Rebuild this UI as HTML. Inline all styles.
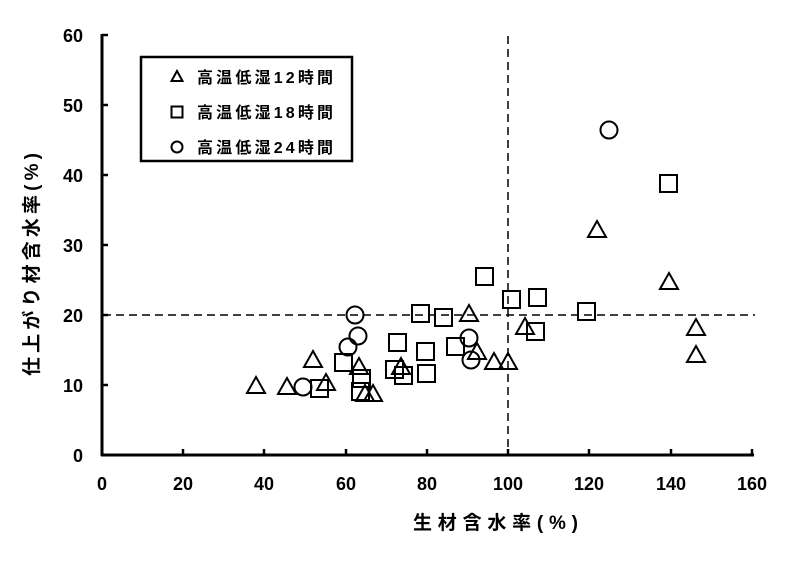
<!DOCTYPE html>
<html><head><meta charset="utf-8"><style>body{margin:0;background:#fff}</style></head><body>
<svg width="800" height="558" xmlns="http://www.w3.org/2000/svg" font-family="'Liberation Sans','Noto Sans CJK JP',sans-serif" font-weight="bold">
<rect width="800" height="558" fill="#fff"/>
<g stroke="#000" stroke-width="1.5" stroke-dasharray="8,5" fill="none">
<line x1="103" y1="315" x2="755" y2="315"/>
<line x1="508" y1="36" x2="508" y2="455"/>
</g>
<g stroke="#000" stroke-width="3" fill="none">
<line x1="102" y1="34" x2="102" y2="456"/>
<line x1="101" y1="455" x2="754" y2="455"/>
</g>
<g stroke="#000" stroke-width="2.5">
<line x1="102" y1="35" x2="108" y2="35"/><line x1="102" y1="105" x2="108" y2="105"/><line x1="102" y1="175" x2="108" y2="175"/><line x1="102" y1="245" x2="108" y2="245"/><line x1="102" y1="315" x2="108" y2="315"/><line x1="102" y1="385" x2="108" y2="385"/>
<line x1="183" y1="455" x2="183" y2="449"/><line x1="264" y1="455" x2="264" y2="449"/><line x1="346" y1="455" x2="346" y2="449"/><line x1="427" y1="455" x2="427" y2="449"/><line x1="508" y1="455" x2="508" y2="449"/><line x1="589" y1="455" x2="589" y2="449"/><line x1="671" y1="455" x2="671" y2="449"/><line x1="752" y1="455" x2="752" y2="449"/>
</g>
<g font-size="18" text-anchor="end">
<text x="83" y="42">60</text><text x="83" y="112">50</text><text x="83" y="182">40</text><text x="83" y="252">30</text><text x="83" y="322">20</text><text x="83" y="392">10</text><text x="83" y="462">0</text>
</g>
<g font-size="18" text-anchor="middle">
<text x="102" y="490">0</text><text x="183" y="490">20</text><text x="264" y="490">40</text><text x="346" y="490">60</text><text x="427" y="490">80</text><text x="508" y="490">100</text><text x="589" y="490">120</text><text x="671" y="490">140</text><text x="752" y="490">160</text>
</g>
<text x="413" y="529" font-size="19" letter-spacing="3" textLength="168">生材含水率(%)</text>
<text transform="translate(38,376) rotate(-90)" font-size="19" letter-spacing="3" textLength="226">仕上がり材含水率(%)</text>
<g fill="none" stroke="#000" stroke-width="2">
<g>
<path d="M256,377 l9,16 h-18z"/><path d="M287,378 l9,16 h-18z"/><path d="M313,351 l9,16 h-18z"/><path d="M326,374 l9,16 h-18z"/><path d="M359,358 l9,16 h-18z"/><path d="M365,385 l9,16 h-18z"/><path d="M373,385 l9,16 h-18z"/><path d="M401,358 l9,16 h-18z"/><path d="M469,305 l9,16 h-18z"/><path d="M477,343 l9,16 h-18z"/><path d="M494,353 l9,16 h-18z"/><path d="M508,353 l9,16 h-18z"/><path d="M525,318 l9,16 h-18z"/><path d="M597,221 l9,16 h-18z"/><path d="M669,273 l9,16 h-18z"/><path d="M696,319 l9,16 h-18z"/><path d="M696,346 l9,16 h-18z"/>
</g>
<g>
<rect x="335" y="354" width="17" height="17"/><rect x="353" y="370" width="17" height="17"/><rect x="352" y="383" width="17" height="17"/><rect x="311" y="380" width="17" height="17"/><rect x="386" y="361" width="17" height="17"/><rect x="389" y="334" width="17" height="17"/><rect x="395" y="367" width="17" height="17"/><rect x="412" y="305" width="17" height="17"/><rect x="417" y="343" width="17" height="17"/><rect x="418" y="365" width="17" height="17"/><rect x="435" y="309" width="17" height="17"/><rect x="447" y="338" width="17" height="17"/><rect x="476" y="268" width="17" height="17"/><rect x="503" y="291" width="17" height="17"/><rect x="529" y="289" width="17" height="17"/><rect x="527" y="323" width="17" height="17"/><rect x="578" y="303" width="17" height="17"/><rect x="660" y="175" width="17" height="17"/>
</g>
<g>
<circle cx="355" cy="315" r="8.5"/><circle cx="358" cy="336" r="8.5"/><circle cx="348" cy="347" r="8.5"/><circle cx="303" cy="387" r="8.5"/><circle cx="469" cy="338" r="8.5"/><circle cx="471" cy="360" r="8.5"/><circle cx="609" cy="130" r="8.5"/>
</g>
<rect x="141" y="57" width="211" height="104" fill="#fff" stroke-width="2.5"/>
<path d="M177,71 l5.5,10 h-11z" stroke-width="2"/>
<rect x="171.5" y="106.5" width="11" height="11" stroke-width="2"/>
<circle cx="177" cy="147" r="5.5" stroke-width="2"/>
</g>
<g font-size="16">
<text x="197" y="83" textLength="136">高温低湿12時間</text>
<text x="197" y="118" textLength="136">高温低湿18時間</text>
<text x="197" y="153" textLength="136">高温低湿24時間</text>
</g>
</svg>
</body></html>
